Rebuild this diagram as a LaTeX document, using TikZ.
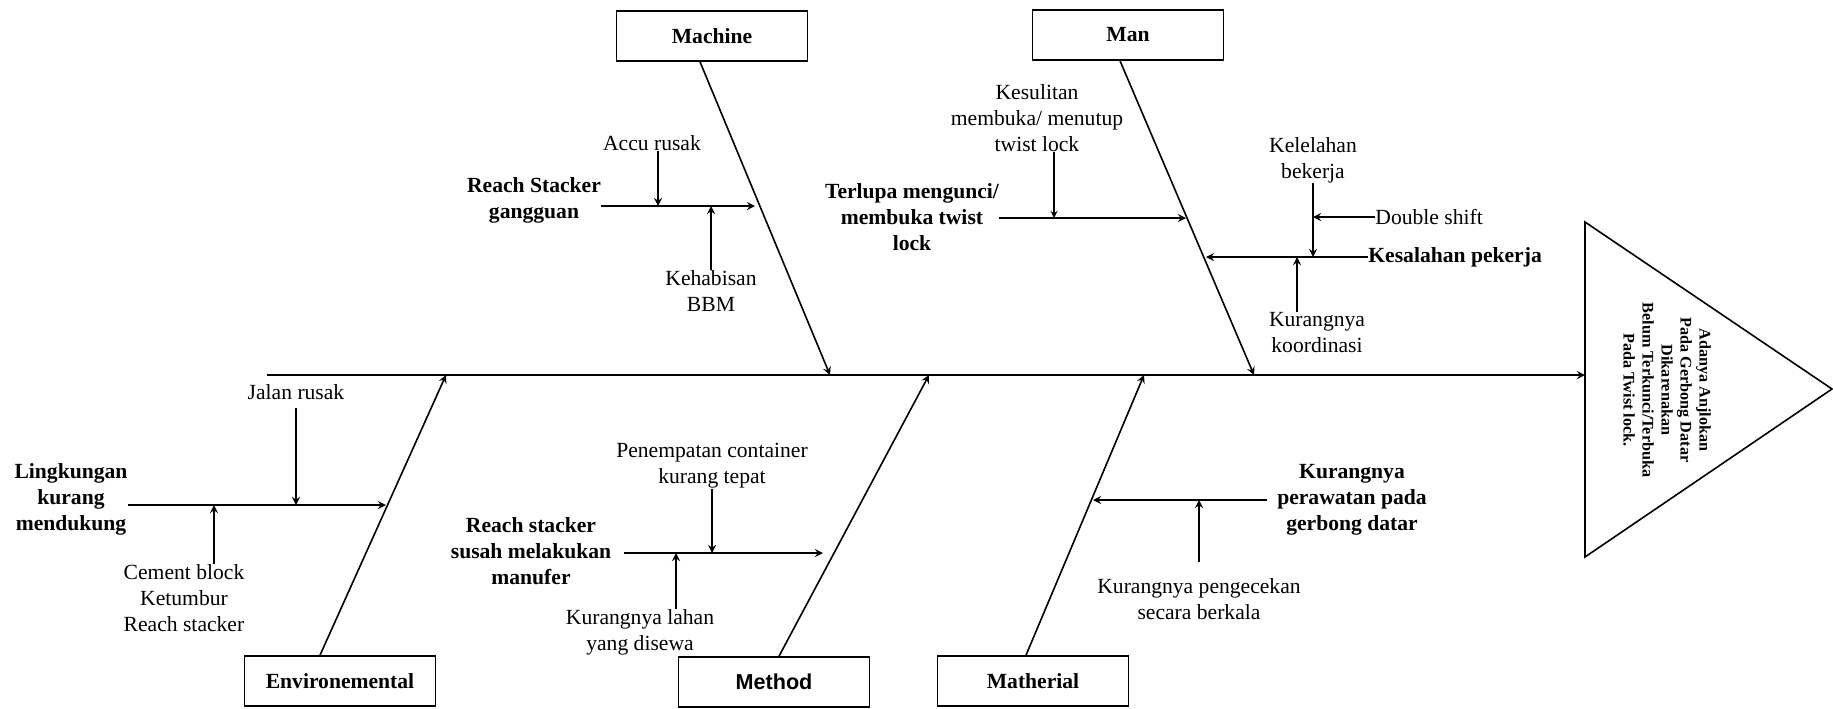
\documentclass[tikz,border=0pt]{standalone}
\usepackage{fontspec}
\setmainfont{Liberation Serif}
\newfontfamily\sansfont{Liberation Sans}
\usetikzlibrary{shapes.geometric, arrows}
\tikzstyle{catbox} = [rectangle, minimum width=95.5pt, minimum height=25pt, text centered, draw=black, thick, font=\bfseries\fontsize{10.8}{13}\selectfont]
\tikzstyle{cause} = [align=center, inner sep=0pt, font=\bfseries\fontsize{10.8}{13}\selectfont]
\tikzstyle{subcause} = [align=center, inner sep=0pt, font=\fontsize{10.8}{13}\selectfont]
\tikzstyle{arrow} = [thick,->,>=stealth]
\tikzstyle{thinarrow} = [semithick,->,>=stealth]

\begin{document}
\begin{tikzpicture}[x=0.5pt, y=-0.5pt]
        \useasboundingbox (0,0) rectangle (1833,708);

        % category boxes
        \node (machine) [catbox] at (712,36) {Machine};
        \node (man) [catbox] at (1128,35) {Man};
        \node (env) [catbox] at (340,681) {Environemental};
        \node (method) [catbox, font=\sansfont\bfseries\fontsize{10.8}{13}\selectfont] at (774,682) {Method};
        \node (mat) [catbox] at (1033,681) {Matherial};

        % head
        \coordinate (t1) at (1585,222);
        \coordinate (t2) at (1832,389);
        \coordinate (t3) at (1585,557);
        \draw [thick] (t1) -- (t2) -- (t3) -- cycle;
        \node (effect) [cause, rotate=-90, font=\bfseries\fontsize{8.1}{9.5}\selectfont] at (1667,390) {Adanya Anjlokan\\Pada Gerbong Datar\\Dikarenakan\\Belum Terkunci/Terbuka\\Pada Twist lock.};

        % spine
        \coordinate (tail) at (267,375);
        \coordinate (head) at (1585,375);
        \draw [arrow] (tail) -- (head);

        % bones
        \coordinate (mcA) at (830,375);
        \coordinate (mnA) at (1254,375);
        \coordinate (enA) at (446,375);
        \coordinate (mtA) at (929,375);
        \coordinate (mrA) at (1144,375);
        \draw [arrow] ([xshift=-6pt]machine.south) -- (mcA);
        \draw [arrow] ([xshift=-4pt]man.south) -- (mnA);
        \draw [arrow] ([xshift=-10pt]env.north) -- (enA);
        \draw [arrow] ([xshift=2.5pt]method.north) -- (mtA);
        \draw [arrow] ([xshift=-3.5pt]mat.north) -- (mrA);

        % machine
        \coordinate (rsgA) at (755,206);
        \node (rsg) [cause] at (534,200) {Reach Stacker\\gangguan};
        \node (accu) [subcause] at (652,143) {Accu rusak};
        \node (kbbm) [subcause] at (711,291) {Kehabisan\\BBM};
        \draw [arrow] (rsg.east |- rsgA) -- (rsgA);
        \draw [arrow] ([xshift=3pt]accu.south) -- ([xshift=3pt]accu.south |- rsgA);
        \draw [arrow] (kbbm.north) -- (kbbm.north |- rsgA);

        % man
        \coordinate (tlA) at (1186,218);
        \coordinate (kpA) at (1206,257);
        \node (tl) [cause] at (912,217) {Terlupa mengunci/\\membuka twist\\lock};
        \node (kes) [subcause] at (1037,118) {Kesulitan\\membuka/ menutup\\twist lock};
        \node (kp) [cause, anchor=west] at (1368,257) {Kesalahan pekerja};
        \node (kel) [subcause] at (1313,160) {Kelelahan\\bekerja};
        \node (dbl) [subcause, anchor=west] at (1375,217) {Double shift};
        \node (kko) [subcause] at (1317,333) {Kurangnya\\koordinasi};
        \draw [arrow] (tl.east |- tlA) -- (tlA);
        \draw [thinarrow] ([xshift=8.5pt]kes.south) -- ([xshift=8.5pt]kes.south |- tlA);
        \draw [arrow] (kp.west) -- (kpA);
        \draw [arrow] (kel.south) -- (kel.south |- kpA);
        \draw [arrow] (dbl.west) -- (dbl.west -| kel.south);
        \draw [arrow] ([xshift=-10pt]kko.north) -- ([xshift=-10pt]kko.north |- kpA);

        % environemental
        \coordinate (lkA) at (386,505);
        \node (lk) [cause] at (71,499) {Lingkungan\\kurang\\mendukung};
        \node (jr) [subcause] at (296,392) {Jalan rusak};
        \node (cem) [subcause] at (184,598) {Cement block\\Ketumbur\\Reach stacker};
        \draw [arrow] (lk.east |- lkA) -- (lkA);
        \draw [arrow] ([yshift=-4pt]jr.south) -- (jr.south |- lkA);
        \draw [arrow] ([xshift=15pt]cem.north) -- ([xshift=15pt]cem.north |- lkA);

        % method
        \coordinate (rssA) at (823,553);
        \node (rss) [cause] at (531,551) {Reach stacker\\susah melakukan\\manufer};
        \node (pen) [subcause] at (712,466) {Penempatan container\\kurang tepat};
        \node (kl) [subcause] at (640,632) {Kurangnya lahan\\yang disewa};
        \draw [arrow] ([xshift=6pt]rss.east |- rssA) -- (rssA);
        \draw [arrow] (pen.south) -- (pen.south |- rssA);
        \draw [arrow] ([xshift=18pt]kl.north) -- ([xshift=18pt]kl.north |- rssA);

        % matherial
        \coordinate (kprA) at (1093,500);
        \node (kpr) [cause] at (1352,500) {Kurangnya\\perawatan pada\\gerbong datar};
        \node (kpg) [subcause] at (1199,599) {Kurangnya pengecekan\\secara berkala};
        \draw [arrow] ([xshift=-5pt]kpr.west |- kprA) -- (kprA);
        \draw [arrow] ([yshift=8pt]kpg.north) -- (kpg.north |- kprA);
        \end{tikzpicture}
\end{document}
